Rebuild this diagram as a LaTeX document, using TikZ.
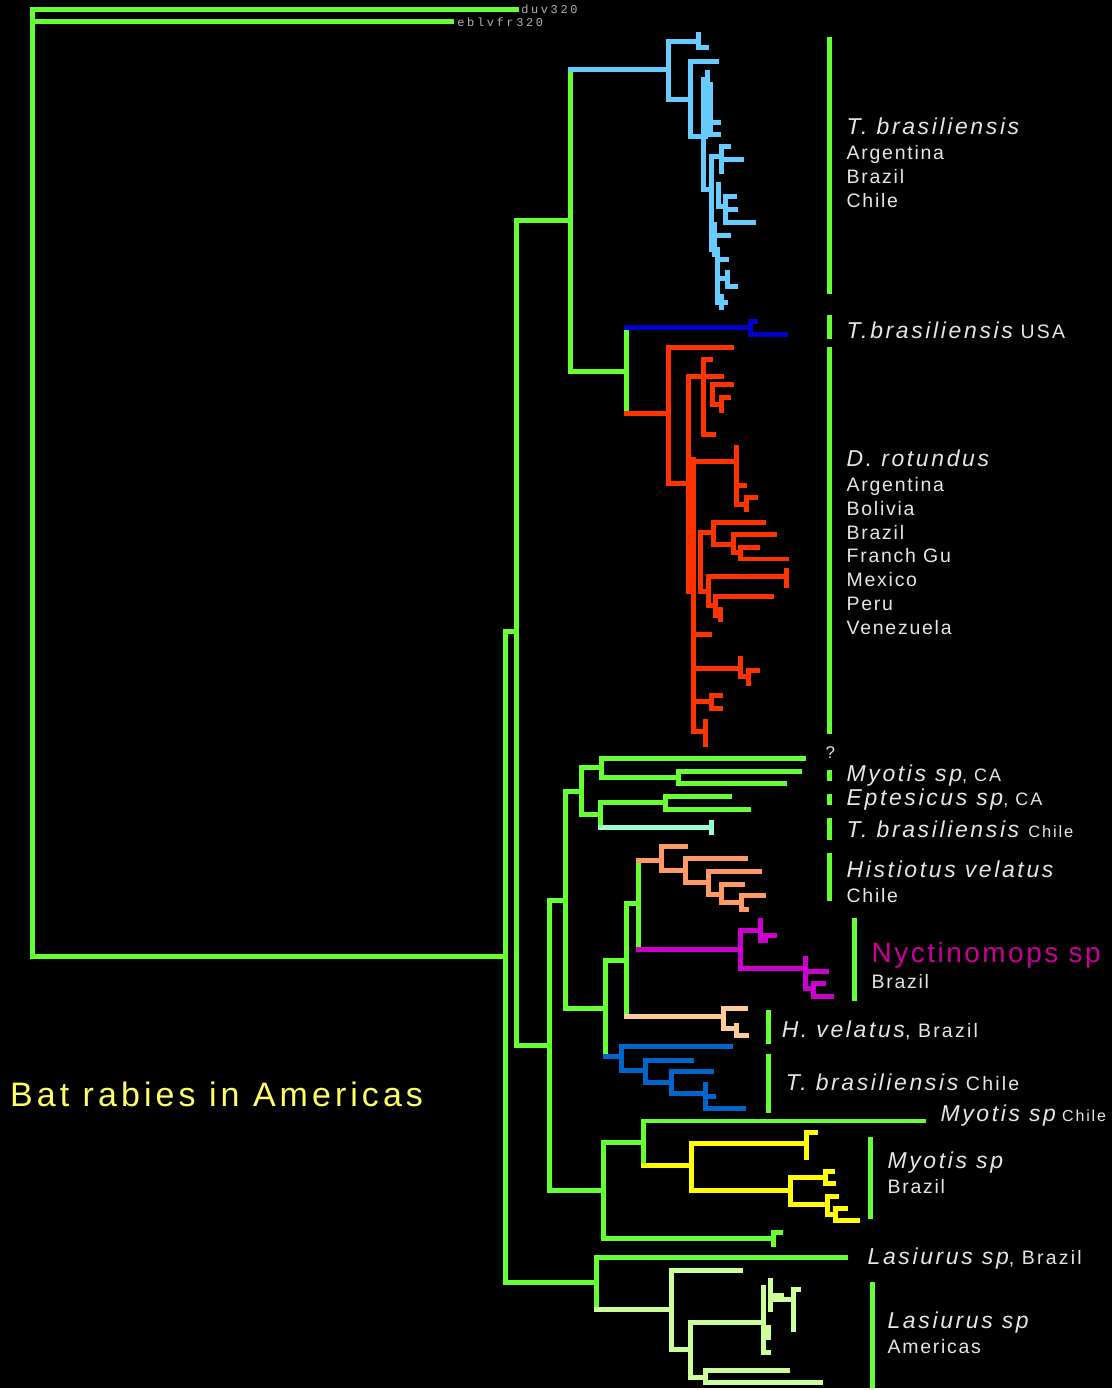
\documentclass[tikz,border=0pt]{standalone}
\usepackage{fontspec}
\setmainfont{Liberation Sans}[LetterSpace=9.0]
\newfontfamily\spfont{Liberation Sans}[LetterSpace=11.5]
\newfontfamily\ttlfont{Liberation Sans}[LetterSpace=12.0]
\newfontfamily\tipfont{Liberation Mono}[LetterSpace=22.0]
\usepackage{xcolor}
\usepackage{tikz}
\usetikzlibrary{positioning}

\definecolor{grn}{HTML}{66FF33}
\definecolor{skyb}{HTML}{66CCFF}
\definecolor{navy}{HTML}{0000CC}
\definecolor{redo}{HTML}{FF3300}
\definecolor{mint}{HTML}{99FFCC}
\definecolor{orng}{HTML}{FF9966}
\definecolor{magt}{HTML}{CC00CC}
\definecolor{peach}{HTML}{FFCC99}
\definecolor{midb}{HTML}{0066CC}
\definecolor{yelo}{HTML}{FFFF00}
\definecolor{lgrn}{HTML}{CCFF99}
\definecolor{txtc}{HTML}{E6E6E6}
\definecolor{ttlc}{HTML}{FFFF66}
\definecolor{nyct}{HTML}{CC0099}

\begin{document}
\begin{tikzpicture}[
  x=1pt, y=-1pt,
  br/.style={line width=5pt, line cap=rect, draw=#1},
  bar/.style={line width=5pt, draw=grn},
  sp/.style={anchor=base west, inner sep=0pt, text=txtc,
             font=\fontsize{23}{24}\spfont\itshape},
  ct/.style={anchor=base west, inner sep=0pt, text=txtc,
             font=\fontsize{19.5}{24}\selectfont, align=left},
  tip/.style={anchor=base west, inner sep=0pt, text=gray!60,
              font=\fontsize{12}{12}\tipfont}
]

% Background
\fill[black] (0,0) rectangle (1114,1390);

% Outgroups and backbone
\draw[br=grn] (517,10) -| (33,958) -- (502,958);
\draw[br=grn] (33,22) -- (452,22);
\draw[br=grn] (517,633) -| (506,1285) -- (597,1285);
\draw[br=grn] (572,221) -| (517,1047) -- (550,1047);
\draw[br=grn] (572,70) -- (572,372) -- (628,372);
\draw[br=grn] (628,328) -- (628,414);

% T. brasiliensis (light blue)
\draw[br=skyb] (572,70) -- (670,70);
\draw[br=skyb] (698,42) -| (670,100) -- (692,100);
\draw[br=skyb] (700,35) -- (700,48) -- (708,48);
\draw[br=skyb] (718,62) -| (692,137) -- (707,137);
\foreach \xx/\ya/\yb in {705/80/190, 709/73/133, 712/85/135}
  \draw[br=skyb] (\xx,\ya) -- (\xx,\yb);
\draw[br=skyb] (712,123) -- (720,123);
\draw[br=skyb] (712,135) -- (720,135);
\draw[br=skyb] (705,190) -- (713,190);
\draw[br=skyb] (723,157) -| (713,250);
\draw[br=skyb] (730,147) -| (723,172);
\draw[br=skyb] (723,160) -- (743,160);
\draw[br=skyb] (720,185) -- (720,207) -- (727,207);
\draw[br=skyb] (736,197) -| (727,223) -- (755,223);
\draw[br=skyb] (727,210) -- (737,210);
\draw[br=skyb] (713,236) -- (730,236);
\draw[br=skyb] (716,225) -- (716,255);
\draw[br=skyb] (719,250) -- (719,303) -- (727,303);
\foreach \yy/\xe in {260/728, 279/727}
  \draw[br=skyb] (719,\yy) -- (\xe,\yy);
\draw[br=skyb] (729,273) -- (729,287) -- (737,287);
\draw[br=skyb] (723,297) -- (723,308);

% T. brasiliensis USA (dark blue)
\draw[br=navy] (628,328) -- (752,328);
\draw[br=navy] (757,322) -| (752,335) -- (787,335);

% D. rotundus (red)
\draw[br=redo] (628,414) -- (670,414);
\draw[br=redo] (733,348) -| (670,484) -- (690,484);
\draw[br=redo] (690,377) -- (690,593);
\draw[br=redo] (695,460) -- (695,733) -- (707,733);
\draw[br=redo] (707,723) -- (707,746);
\draw[br=redo] (690,377) -- (723,377);
\draw[br=redo] (712,360) -| (705,435) -- (715,435);
\draw[br=redo] (733,385) -| (714,405) -- (723,405);
\draw[br=redo] (730,398) -| (723,411);
\draw[br=redo] (690,462) -- (738,462);
\draw[br=redo] (738,448) -- (738,505) -- (748,505);
\draw[br=redo] (738,486) -- (746,486);
\draw[br=redo] (757,498) -| (748,510);
\draw[br=redo] (715,533) -| (702,593) -- (710,593);
\draw[br=redo] (765,523) -| (715,545) -- (735,545);
\draw[br=redo] (776,535) -| (735,553) -- (742,553);
\draw[br=redo] (759,548) -| (742,560) -- (788,560);
\draw[br=redo] (788,578) -| (710,607) -- (717,607);
\draw[br=redo] (788,572) -- (788,587);
\draw[br=redo] (773,598) -| (717,617) -- (722,617);
\draw[br=redo] (722,611) -- (722,621);
\draw[br=redo] (695,636) -- (711,636);
\draw[br=redo] (695,670) -- (742,670);
\draw[br=redo] (742,660) -- (742,678) -- (750,678);
\draw[br=redo] (759,672) -| (750,685);
\draw[br=redo] (695,703) -- (713,703);
\draw[br=redo] (722,697) -| (713,710) -- (722,710);

% Myotis / Eptesicus / T. brasiliensis Chile (green)
\draw[br=grn] (567,902) -| (550,1193) -- (605,1193);
\draw[br=grn] (583,793) -| (567,1010) -- (607,1010);
\draw[br=grn] (603,769) -| (583,816) -- (602,816);
\draw[br=grn] (805,760) -| (603,779) -- (680,779);
\draw[br=grn] (801,773) -| (680,785) -- (786,785);
\draw[br=grn] (667,804) -| (602,829);
\draw[br=grn] (731,798) -| (667,811) -- (750,811);
\draw[br=mint] (602,829) -- (713,829);
\draw[br=mint] (713,824) -- (713,834);

% Histiotus / Nyctinomops (green stems)
\draw[br=grn] (628,962) -| (607,1058);
\draw[br=grn] (640,905) -| (628,1018);
\draw[br=grn] (640,862) -- (640,951);

% Histiotus velatus Chile (orange)
\draw[br=orng] (640,862) -- (663,862);
\draw[br=orng] (687,848) -| (663,872) -- (687,872);
\draw[br=orng] (747,860) -| (687,884) -- (710,884);
\draw[br=orng] (761,873) -| (710,896) -- (723,896);
\draw[br=orng] (744,886) -| (723,904) -- (743,904);
\draw[br=orng] (765,897) -| (743,911) -- (748,911);

% Nyctinomops sp (magenta)
\draw[br=magt] (640,951) -- (742,951);
\draw[br=magt] (762,932) -| (742,970) -- (807,970);
\draw[br=magt] (762,922) -- (762,942) -- (767,942);
\draw[br=magt] (762,937) -- (776,937);
\draw[br=magt] (807,960) -- (807,990) -- (815,990);
\draw[br=magt] (807,973) -- (828,973);
\draw[br=magt] (825,985) -| (815,998) -- (833,998);

% H. velatus Brazil (peach)
\draw[br=peach] (628,1018) -- (725,1018);
\draw[br=peach] (747,1010) -| (725,1030) -- (738,1030);
\draw[br=peach] (738,1027) -- (738,1037) -- (748,1037);

% T. brasiliensis Chile (blue)
\draw[br=midb] (607,1058) -- (623,1058);
\draw[br=midb] (732,1048) -| (623,1072) -- (647,1072);
\draw[br=midb] (693,1062) -| (647,1084) -- (673,1084);
\draw[br=midb] (713,1073) -| (673,1095) -- (707,1095);
\draw[br=midb] (707,1086) -- (707,1110) -- (745,1110);
\draw[br=midb] (707,1098) -- (715,1098);

% Myotis sp Chile / Brazil
\draw[br=grn] (645,1145) -| (605,1241) -- (775,1241);
\draw[br=grn] (925,1123) -| (645,1168);
\draw[br=grn] (782,1235) -| (775,1247);
\draw[br=yelo] (645,1168) -- (693,1168);
\draw[br=yelo] (808,1146) -| (693,1193) -- (792,1193);
\draw[br=yelo] (817,1135) -| (808,1160);
\draw[br=yelo] (827,1180) -| (792,1207) -- (829,1207);
\draw[br=yelo] (834,1174) -| (827,1186) -- (835,1186);
\draw[br=yelo] (838,1199) -| (829,1217) -- (837,1217);
\draw[br=yelo] (847,1211) -| (837,1223) -- (859,1223);

% Lasiurus
\draw[br=grn] (847,1260) -| (598,1312);
\draw[br=lgrn] (598,1312) -- (673,1312);
\draw[br=lgrn] (742,1273) -| (673,1352) -- (692,1352);
\draw[br=lgrn] (763,1325) -| (692,1380) -- (707,1380);
\draw[br=lgrn] (789,1373) -| (707,1385) -- (822,1385);
\draw[br=lgrn] (765,1290) -- (765,1355) -- (770,1355);
\draw[br=lgrn] (772,1283) -- (772,1312);
\draw[br=lgrn] (772,1298) -- (783,1298);
\draw[br=lgrn] (772,1302) -- (793,1302);
\draw[br=lgrn] (800,1292) -| (795,1332);
\draw[br=lgrn] (770,1330) -- (770,1340);

% Clade bars
\foreach \xx/\ya/\yb in {831/37/295, 831/316/340, 831/348/735,
    831/771/782, 831/795/806, 831/819/842, 831/855/903,
    856/920/1003, 770/1012/1046, 770/1056/1115,
    872/1139/1221, 874/1284/1390}
  \draw[bar] (\xx,\ya) -- (\xx,\yb);

% Tip labels of the outgroups
\node[tip] (duv) at (522,14) {duv320};
\node[tip] (eblv) at (458,27) {eblvfr320};

% Clade labels
\node[sp] (tbr) at (848,135) {T. brasiliensis};
\node[ct] (tbra) at (848,160) {Argentina};
\node[ct] (tbrb) at (848,184) {Brazil};
\node[ct] (tbrc) at (848,208) {Chile};

\node[sp] (usa) at (848,339) {T.brasiliensis\upshape\fontsize{19.5}{20}\selectfont\ USA};

\node[sp] (drt) at (848,467) {D. rotundus};
\foreach \cc [count=\i] in {Argentina, Bolivia, Brazil, Franch Gu, Mexico, Peru, Venezuela}
  \node[ct] (drt\i) at (848,{468+24*\i}) {\cc};

\node[ct, font=\fontsize{17}{17}\selectfont] (qm) at (827,760) {?};
\node[sp] (myca) at (848,783) {Myotis sp\upshape\fontsize{18}{18}\selectfont, CA};
\node[sp] (epca) at (848,807) {Eptesicus sp\upshape\fontsize{18}{18}\selectfont, CA};
\node[sp] (tbch) at (848,839) {T. brasiliensis \upshape\fontsize{16.5}{17}\selectfont Chile};
\node[sp] (hvel) at (848,879) {Histiotus velatus};
\node[ct] (hvch) at (848,904) {Chile};

\node[ct, text=nyct, font=\fontsize{28}{28}\selectfont] (nyc) at (873,964) {Nyctinomops sp};
\node[ct] (nycb) at (873,990) {Brazil};

\node[sp] (hvbr) at (783,1039) {H. velatus\upshape\fontsize{19.5}{20}\selectfont, Brazil};
\node[sp] (tbch2) at (787,1092) {T. brasiliensis\upshape\fontsize{19.5}{20}\selectfont\ Chile};
\node[sp] (mych) at (942,1124) {Myotis sp\upshape\fontsize{16}{17}\selectfont\ Chile};
\node[sp] (mybr) at (889,1171) {Myotis sp};
\node[ct] (mybb) at (889,1196) {Brazil};
\node[sp] (lasb) at (869,1267) {Lasiurus sp\upshape\fontsize{19.5}{20}\selectfont, Brazil};
\node[sp] (lasa) at (889,1331) {Lasiurus sp};
\node[ct] (lasm) at (889,1356) {Americas};

% Title
\node[ct, text=ttlc, font=\fontsize{34}{34}\ttlfont] (ttl) at (10,1108) {Bat rabies in Americas};

\end{tikzpicture}
\end{document}
